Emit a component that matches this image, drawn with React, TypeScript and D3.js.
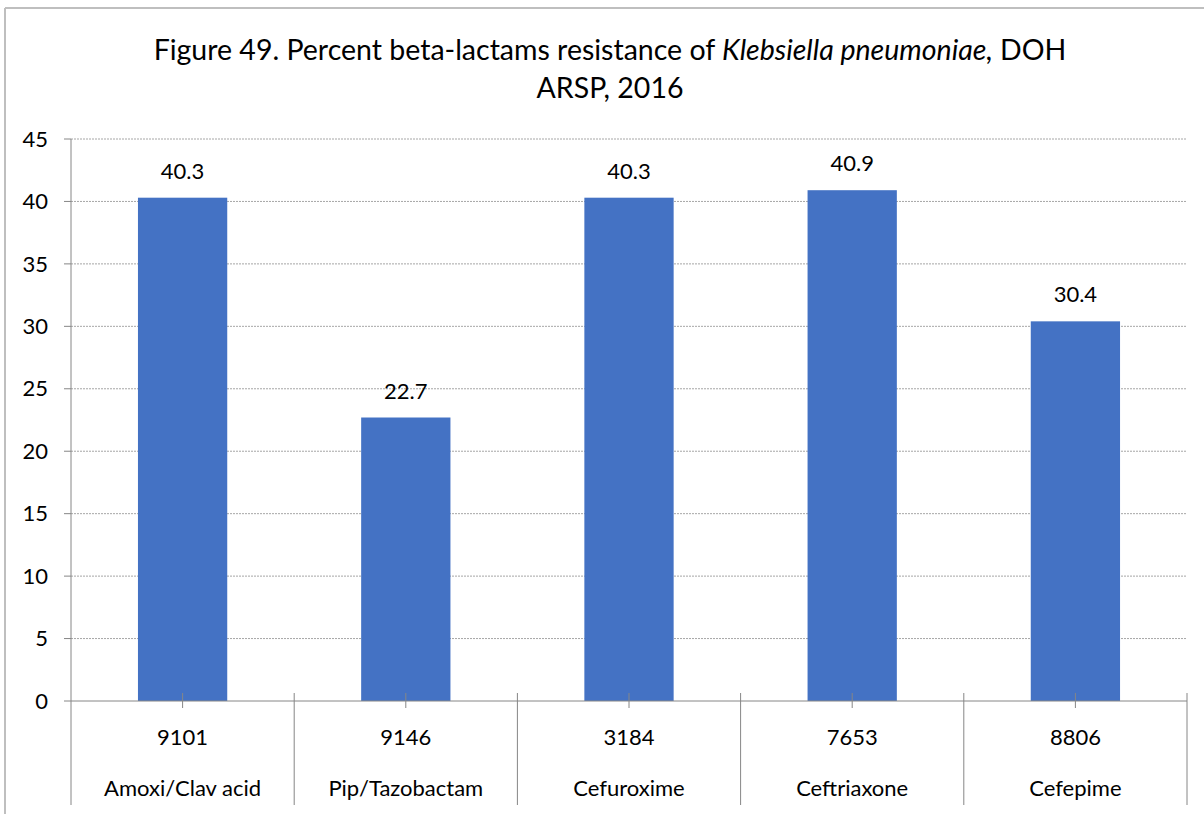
import React from "react";
import * as d3 from "d3";

const categories = ["Amoxi/Clav acid", "Pip/Tazobactam", "Cefuroxime", "Ceftriaxone", "Cefepime"];
const counts = ["9101", "9146", "3184", "7653", "8806"];
const values = [40.3, 22.7, 40.3, 40.9, 30.4];
const yTicks = [0, 5, 10, 15, 20, 25, 30, 35, 40, 45];

export default function App() {
  const W = 1204, H = 814;
  const left = 71, right = 1187, top = 139, bottom = 701;
  const font = "Lato, 'Open Sans', sans-serif";
  const fs = 22;
  const x = d3.scaleBand<string>().domain(categories).range([left, right]).paddingInner(0.6).paddingOuter(0.3);
  const y = d3.scaleLinear().domain([0, 45]).range([bottom, top]);
  const step = (right - left) / categories.length;
  const bounds = d3.range(categories.length + 1).map((i) => left + i * step);
  return (
    <svg width={W} height={H} style={{ position: "absolute", left: 0, top: 0, background: "#fff" }}>
      <rect x={0} y={0} width={W} height={H} fill="#fff" />
      <line x1={5} y1={8} x2={W} y2={8} stroke="#bfbfbf" strokeWidth={2} />
      <line x1={5} y1={8} x2={5} y2={H} stroke="#bfbfbf" strokeWidth={2} />
      <text x={610} y={60} textAnchor="middle" fontFamily={font} fontSize={28.5} fill="#000">
        Figure 49. Percent beta-lactams resistance of <tspan fontStyle="italic">Klebsiella pneumoniae,</tspan> DOH
      </text>
      <text x={610} y={98} textAnchor="middle" fontFamily={font} fontSize={28.5} fill="#000">ARSP, 2016</text>
      {yTicks.map((t) => (
        <g key={t}>
          {t > 0 && (
            <line x1={left} x2={right} y1={y(t)} y2={y(t)} stroke="#a6a6a6" strokeWidth={1} strokeDasharray="2,1" />
          )}
          <line x1={left - 7} x2={left} y1={y(t)} y2={y(t)} stroke="#868686" />
          <text x={48} y={y(t)} dy="0.35em" textAnchor="end" fontFamily={font} fontSize={fs} fill="#000">{t}</text>
        </g>
      ))}
      {categories.map((c, i) => (
        <g key={c}>
          <rect x={x(c)} y={y(values[i])} width={x.bandwidth()} height={y(0) - y(values[i])} fill="#4472c4" />
          <text x={x(c)! + x.bandwidth() / 2} y={y(values[i]) - 19} textAnchor="middle" fontFamily={font} fontSize={fs} fill="#000">
            {values[i].toFixed(1)}
          </text>
          <line x1={left + (i + 0.5) * step} x2={left + (i + 0.5) * step} y1={bottom - 8} y2={bottom + 7} stroke="#868686" />
          <text x={left + (i + 0.5) * step} y={737} dy="0.35em" textAnchor="middle" fontFamily={font} fontSize={fs} fill="#000">{counts[i]}</text>
          <text x={left + (i + 0.5) * step} y={788} dy="0.35em" textAnchor="middle" fontFamily={font} fontSize={fs} fill="#000">{c}</text>
        </g>
      ))}
      <line x1={left} x2={right} y1={bottom} y2={bottom} stroke="#868686" />
      <line x1={left} x2={left} y1={top} y2={805} stroke="#868686" />
      {bounds.slice(1).map((b, i) => (
        <line key={i} x1={b} x2={b} y1={bottom - 8} y2={805} stroke="#868686" />
      ))}
    </svg>
  );
}
